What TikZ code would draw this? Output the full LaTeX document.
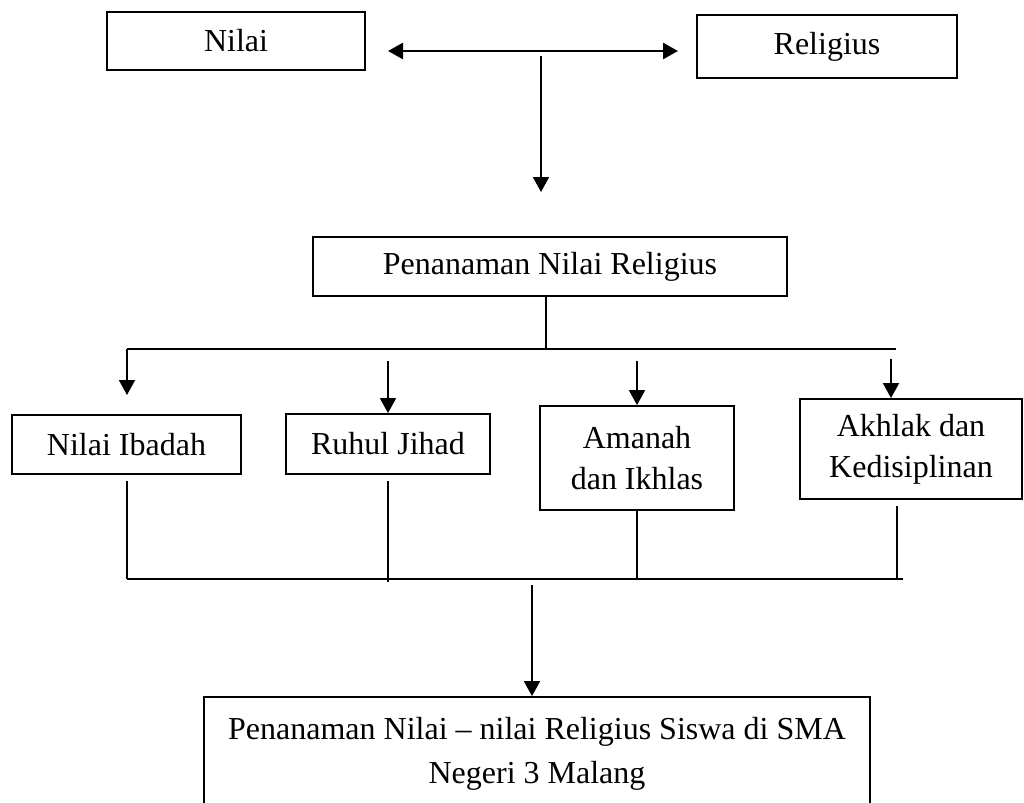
\documentclass[tikz,border=0pt]{standalone}
\usepackage{fontspec}
\setmainfont{Liberation Serif}
\usetikzlibrary{arrows.meta}

\tikzset{
  kotak/.style={draw, line width=0.9pt, inner sep=2pt, align=center,
    font=\fontsize{16}{20.5}\selectfont},
  garis/.style={line width=0.9pt},
  panah/.style={garis, -{Triangle[length=7.5pt,width=8pt]}},
}

\begin{document}
\begin{tikzpicture}[x=0.5pt,y=-0.5pt]
\useasboundingbox (0,0) rectangle (1024,803);

\node (nilai) [kotak, minimum width=129pt, minimum height=29pt] at (236,41) {Nilai};
\node (religius) [kotak, minimum width=130pt, minimum height=31.5pt] at (827,46.5) {Religius};
\node (pnr) [kotak, minimum width=237pt, minimum height=29.5pt] at (550,266.5) {Penanaman Nilai Religius};

\node (ibadah) [kotak, minimum width=114.5pt, minimum height=29.5pt] at (126.5,444.5) {Nilai Ibadah};
\node (jihad) [kotak, minimum width=102pt, minimum height=30pt] at (388,444) {Ruhul Jihad};
\node (amanah) [kotak, minimum width=97pt, minimum height=52pt] at (637,458) {Amanah\\dan Ikhlas};
\node (akhlak) [kotak, minimum width=111pt, minimum height=50pt] at (911,449) {Akhlak dan\\Kedisiplinan};

\node (hasil) [kotak, minimum width=333pt, minimum height=57pt, font=\fontsize{16}{22}\selectfont]
  at (537,754) {Penanaman Nilai -- nilai Religius Siswa di SMA\\Negeri 3 Malang};

% atas
\coordinate (kiri) at (388,51);
\coordinate (kanan) at (678,51);
\coordinate (tengah) at (541,56);
\draw [garis, line width=1.3pt, {Triangle[length=7.5pt,width=8pt]}-{Triangle[length=7.5pt,width=8pt]}] (kiri) -- (kanan);
\draw [panah] (tengah) -- (tengah |- 0,192);

% cabang
\coordinate (busA) at (127,349);
\coordinate (busB) at (896,349);
\draw [garis] ([xshift=-2pt]pnr.south) -- ([xshift=-2pt]pnr.south |- busA);
\draw [garis] (busA) -- (busB);
\draw [panah] (busA) -- (busA |- 0,395);
\foreach \n in {jihad,amanah}
  \draw [panah] ([yshift=-6pt]\n.north |- busA) -- (\n.north);
\draw [panah] ([xshift=-10pt,yshift=-5pt]akhlak.north |- busA) -- ([xshift=-10pt]akhlak.north);

% gabung
\coordinate (busC) at (127,579);
\coordinate (busD) at (903,579);
\draw [garis] (busC) -- (busD);
\draw [garis] ([yshift=-3pt]busC |- ibadah.south) -- (busC);
\draw [garis] ([yshift=-3pt]jihad.south) -- ([yshift=-1.5pt]jihad.south |- busC);
\draw [garis] (amanah.south) -- (amanah.south |- busC);
\draw [garis] ([xshift=-7pt,yshift=-3pt]akhlak.south) -- ([xshift=-7pt]akhlak.south |- busC);
\draw [panah] ([xshift=-2.5pt,yshift=-3pt]hasil.north |- busC) -- ([xshift=-2.5pt]hasil.north);
\end{tikzpicture}
\end{document}
